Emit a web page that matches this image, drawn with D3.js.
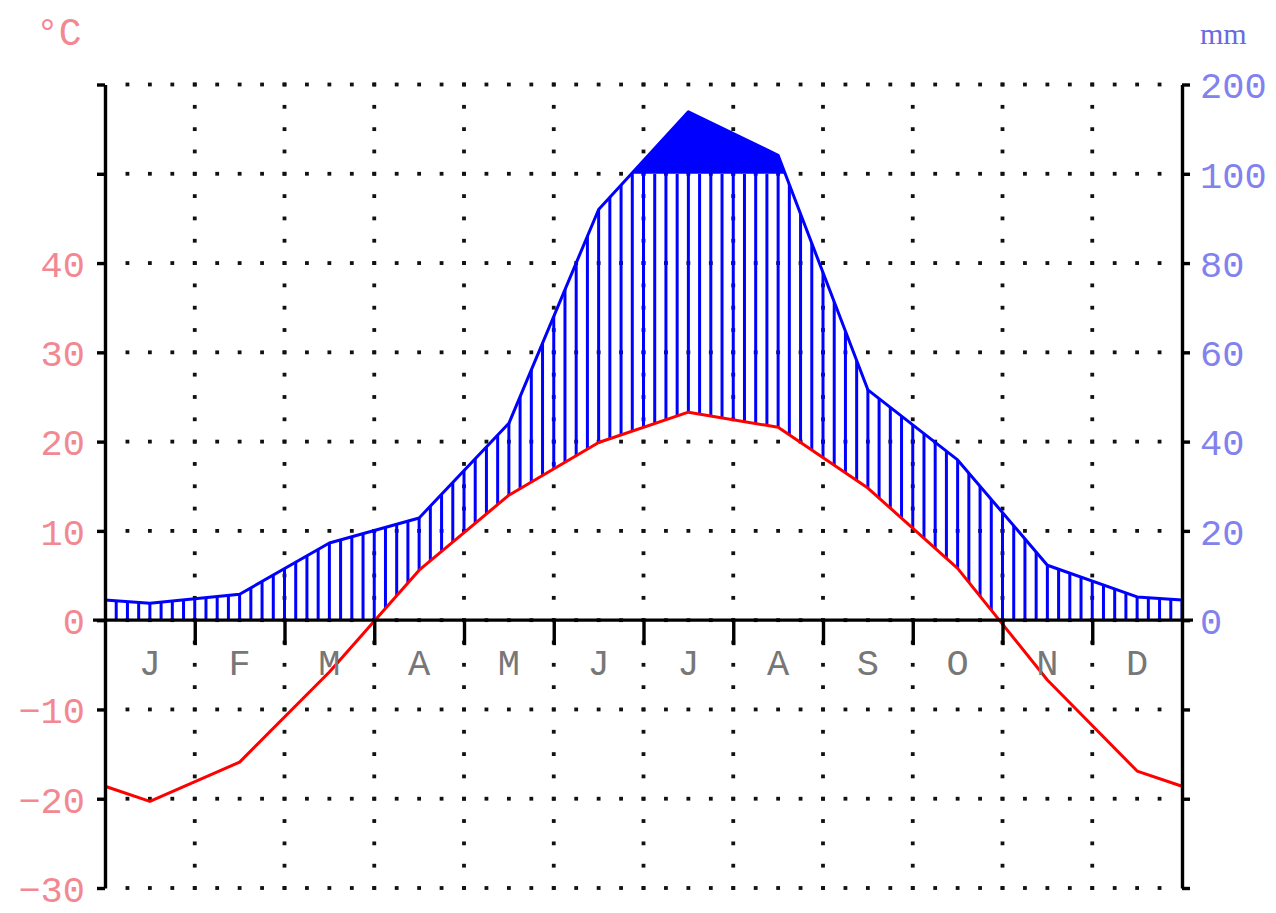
<!DOCTYPE html>
<html lang="en">

<head>
    <meta charset="UTF-8">
    <title>Climate diagram</title>
    <style>
        body { margin: 0; background: #fff; }
    </style>
</head>

<body>
    <div id="chart"></div>
    <script src="https://cdn.jsdelivr.net/npm/d3@7"></script>

    <script>
        const WIDTH = 1276;
        const HEIGHT = 913;
        const LEFT = 105;
        const RIGHT = 1182;
        const TOP = 84.5;
        const BOTTOM = 888;

        const MONTHS = ["J", "F", "M", "A", "M", "J", "J", "A", "S", "O", "N", "D"];
        const TEMP = [-20.3, -15.9, -5.8, 5.6, 14.0, 19.9, 23.3, 21.6, 14.8, 5.8, -6.7, -16.9];
        const PRECIP = [3.8, 5.8, 17.3, 22.9, 44.1, 92.0, 169.5, 120.7, 51.6, 35.9, 12.3, 5.2];
        // value drawn at the year's edges (Dec/Jan wrap)
        const EDGE_TEMP = -18.6;
        const EDGE_PRECIP = 4.5;

        const TEMP_TICKS = [-30, -20, -10, 0, 10, 20, 30, 40, 50, 60];
        const TEMP_LABELS = [-30, -20, -10, 0, 10, 20, 30, 40];
        const PRECIP_TICKS = [0, 20, 40, 60, 80, 100, 200];

        const FONT = "'Liberation Mono', 'Courier New', monospace";

        const x = d3.scaleLinear().domain([0, 12]).range([LEFT, RIGHT]);
        const y = d3.scaleLinear().domain([-30, 60]).range([BOTTOM, TOP]);
        // 0-100 mm : 2 mm per degree, above 100 mm : 10 mm per degree
        const yP = d3.scaleLinear().domain([0, 100, 200]).range([y(0), y(50), y(60)]);

        const tempPts = [{ m: 0, v: EDGE_TEMP }]
            .concat(TEMP.map((v, i) => ({ m: i + 0.5, v })))
            .concat([{ m: 12, v: EDGE_TEMP }]);
        const precipPts = [{ m: 0, v: EDGE_PRECIP }]
            .concat(PRECIP.map((v, i) => ({ m: i + 0.5, v })))
            .concat([{ m: 12, v: EDGE_PRECIP }]);

        const svg = d3.select("#chart")
            .append("svg")
            .attr("width", WIDTH)
            .attr("height", HEIGHT)
            .style("display", "block");

        const defs = svg.append("defs");

        defs.append("clipPath").attr("id", "underPrecip")
            .append("path")
            .attr("d", d3.area().x(d => x(d.m)).y0(y(0)).y1(d => yP(d.v))(precipPts));

        defs.append("clipPath").attr("id", "aboveTemp")
            .append("path")
            .attr("d", d3.area().x(d => x(d.m)).y0(y(60)).y1(d => y(d.v))(tempPts));

        defs.append("clipPath").attr("id", "below100")
            .append("rect")
            .attr("x", x(0)).attr("y", yP(100))
            .attr("width", x(12) - x(0)).attr("height", y(0) - yP(100));

        defs.append("clipPath").attr("id", "above100")
            .append("rect")
            .attr("x", x(0)).attr("y", y(60) - 40)
            .attr("width", x(12) - x(0)).attr("height", yP(100) - y(60) + 40);

        // dotted grid
        const dots = [];
        TEMP_TICKS.forEach(t => {
            d3.range(1, 48).forEach(k => dots.push([x(k / 4), y(t)]));
        });
        d3.range(1, 12).forEach(m => {
            d3.range(0, 37).forEach(k => dots.push([x(m), y(-30 + k * 2.5)]));
        });
        svg.append("g")
            .selectAll("rect")
            .data(dots)
            .enter()
            .append("rect")
            .attr("x", d => d[0] - 1.9)
            .attr("y", d => d[1] - 1.9)
            .attr("width", 3.8)
            .attr("height", 3.8)
            .attr("fill", "#111");

        // humid period : vertical hatching between temperature and precipitation
        svg.append("g").attr("clip-path", "url(#underPrecip)")
            .append("g").attr("clip-path", "url(#aboveTemp)")
            .append("g").attr("clip-path", "url(#below100)")
            .selectAll("line")
            .data(d3.range(0, 97))
            .enter()
            .append("line")
            .attr("x1", k => x(k / 8))
            .attr("x2", k => x(k / 8))
            .attr("y1", y(0))
            .attr("y2", yP(100))
            .attr("stroke", "#0000ff")
            .attr("stroke-width", 3);

        // precipitation above 100 mm in solid
        svg.append("path")
            .attr("clip-path", "url(#above100)")
            .attr("d", d3.area().x(d => x(d.m)).y0(y(0)).y1(d => yP(d.v))(precipPts))
            .attr("fill", "#0000ff");

        svg.append("path")
            .attr("d", d3.line().x(d => x(d.m)).y(d => yP(d.v))(precipPts))
            .attr("fill", "none")
            .attr("stroke", "#0000ff")
            .attr("stroke-width", 3)
            .attr("stroke-linejoin", "round");

        svg.append("path")
            .attr("d", d3.line().x(d => x(d.m)).y(d => y(d.v))(tempPts))
            .attr("fill", "none")
            .attr("stroke", "#ff0000")
            .attr("stroke-width", 3)
            .attr("stroke-linejoin", "round");

        // axes
        const fmt = d3.format("d");

        const left = svg.append("g")
            .attr("transform", `translate(${x(0)},0)`)
            .call(d3.axisLeft(y)
                .tickValues(TEMP_TICKS)
                .tickSize(8)
                .tickSizeOuter(0)
                .tickPadding(12)
                .tickFormat(d => TEMP_LABELS.includes(d) ? fmt(d) : ""));

        const right = svg.append("g")
            .attr("transform", `translate(${x(12)},0)`)
            .call(d3.axisRight(y)
                .tickValues(TEMP_TICKS)
                .tickSize(8)
                .tickSizeOuter(0)
                .tickPadding(10)
                .tickFormat(d => {
                    const mm = yP.invert(y(d));
                    return PRECIP_TICKS.some(p => Math.abs(p - mm) < 0.5) ? fmt(Math.round(mm)) : "";
                }));

        [left, right].forEach(g => {
            g.select(".domain").attr("stroke", "#000").attr("stroke-width", 3.4);
            g.selectAll(".tick line").attr("stroke", "#000").attr("stroke-width", 3.4);
            g.selectAll(".tick text")
                .attr("font-family", FONT)
                .attr("font-size", 37)
                .attr("dy", "0.36em");
        });
        left.selectAll(".tick text").attr("fill", "#f28892");
        right.selectAll(".tick text").attr("fill", "#8282ee");

        // zero line and month ticks
        svg.append("g")
            .attr("transform", `translate(0,${y(0)})`)
            .call(d3.axisBottom(x)
                .tickValues(d3.range(1, 12))
                .tickSize(25)
                .tickSizeOuter(0)
                .tickFormat(""))
            .call(g => g.select(".domain").remove())
            .call(g => g.selectAll(".tick line").attr("stroke", "#000").attr("stroke-width", 3.4));

        svg.append("line")
            .attr("x1", x(0) - 12)
            .attr("x2", x(12) + 11)
            .attr("y1", y(0))
            .attr("y2", y(0))
            .attr("stroke", "#000")
            .attr("stroke-width", 3.4);

        svg.append("g")
            .selectAll("text")
            .data(MONTHS)
            .enter()
            .append("text")
            .attr("x", (d, i) => x(i + 0.5))
            .attr("y", y(0) + 55)
            .attr("text-anchor", "middle")
            .attr("font-family", FONT)
            .attr("font-size", 37)
            .attr("fill", "#777")
            .text(d => d);

        svg.append("text")
            .attr("x", 36)
            .attr("y", 45)
            .attr("font-family", FONT)
            .attr("font-size", 38)
            .attr("fill", "#f28892")
            .text("°C");

        svg.append("text")
            .attr("x", 1200)
            .attr("y", 44)
            .attr("font-family", "'Liberation Serif', 'Times New Roman', serif")
            .attr("font-size", 30)
            .attr("fill", "#6a6ae0")
            .text("mm");
    </script>
</body>

</html>
